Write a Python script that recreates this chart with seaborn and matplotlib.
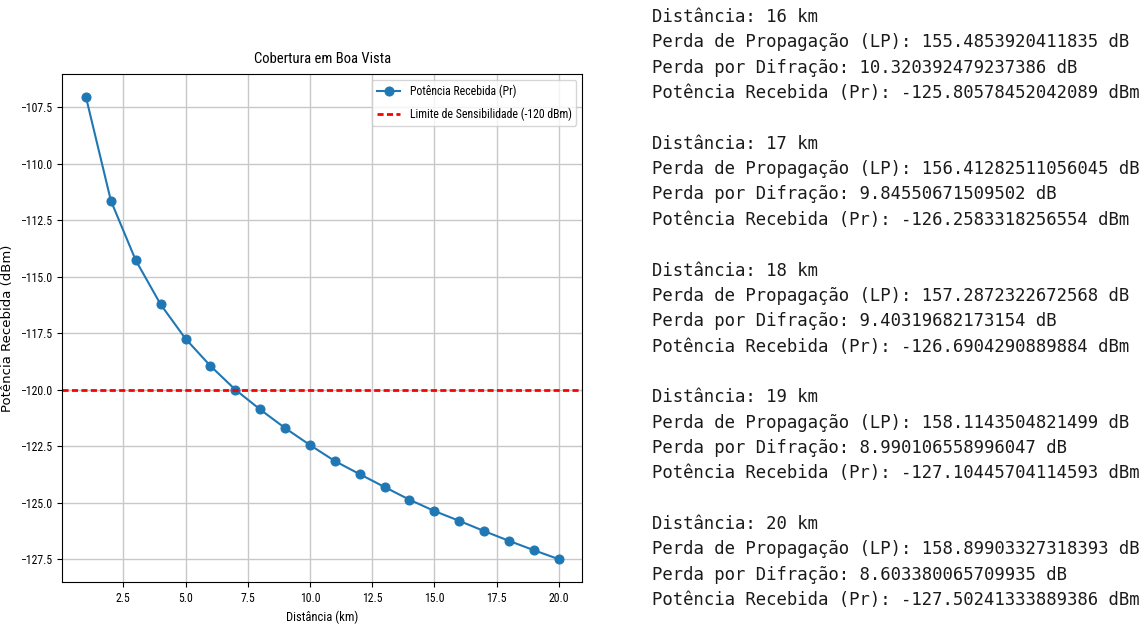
import pandas as pd
import numpy as np
import matplotlib
matplotlib.use("Agg")
import matplotlib.pyplot as plt
import seaborn as sns

# dados
distancias = [1, 2, 3, 4, 5, 6, 7, 8, 9, 10, 11, 12, 13, 14, 15, 16, 17, 18, 19, 20]
potencia_pr = [-107.06, -111.64, -114.28, -116.23, -117.75, -118.95, -120.0, -120.88,
               -121.70, -122.45, -123.16, -123.74, -124.31, -124.87, -125.37,
               -125.80578452042089, -126.2583318256554, -126.6904290889884,
               -127.10445704114593, -127.50241333889386]
limite_sensibilidade = -120

# saída de texto (últimas distâncias)
texto_dist = [16, 17, 18, 19, 20]
texto_lp = ["155.4853920411835", "156.41282511056045", "157.2872322672568",
            "158.1143504821499", "158.89903327318393"]
texto_difr = ["10.320392479237386", "9.84550671509502", "9.40319682173154",
              "8.990106558996047", "8.603380065709935"]
texto_pr = ["-125.80578452042089", "-126.2583318256554", "-126.6904290889884",
            "-127.10445704114593", "-127.50241333889386"]

df = pd.DataFrame({"Distância": distancias, "Pr": potencia_pr})

narrow = ["Roboto Condensed", "Liberation Sans Narrow", "Liberation Sans", "DejaVu Sans"]

fig = plt.figure(figsize=(11.48, 6.27), dpi=100)
ax = fig.add_axes([0.0543, 0.0713, 0.4530, 0.8107])

sns.lineplot(data=df, x="Distância", y="Pr", marker="o", color="#1f77b4",
             markersize=6.5, markeredgecolor="#1f77b4", linewidth=1.5,
             label="Potência Recebida (Pr)", ax=ax)
ax.axhline(limite_sensibilidade, color="red", linestyle=(0, (2.2, 1.2)), linewidth=2,
           label="Limite de Sensibilidade (-120 dBm)")

ax.grid(True, color="#c8c8c8", linewidth=1.0)
ax.set_axisbelow(True)
ax.set_title("Cobertura em Boa Vista", fontsize=10.5, family=narrow, pad=8)
ax.set_xlabel("Distância (km)", fontsize=9, family=narrow, labelpad=4)
ax.set_ylabel("Potência Recebida (dBm)", fontsize=9.5, family="DejaVu Sans")
ax.yaxis.set_label_coords(-0.093, 0.5)
for lab in ax.get_xticklabels() + ax.get_yticklabels():
    lab.set_family(narrow)
    lab.set_fontsize(8.5)
ax.legend(loc="upper right", prop={"family": narrow, "size": 8.5}, labelspacing=0.8)

# bloco de texto à direita
linhas = []
for i in range(len(texto_dist)):
    linhas.append(f"Distância: {texto_dist[i]} km")
    linhas.append(f"Perda de Propagação (LP): {texto_lp[i]} dB")
    linhas.append(f"Perda por Difração: {texto_difr[i]} dB")
    linhas.append(f"Potência Recebida (Pr): {texto_pr[i]} dBm")
    if i < len(texto_dist) - 1:
        linhas.append("")

for k, linha in enumerate(linhas):
    fig.text(652 / 1148, 1 - (17 + k * 25.35) / 627, linha, ha="left", va="center",
             family=["DejaVu Sans Mono", "Liberation Mono"], fontsize=12.4, color="#1a1a1a")

fig.savefig("out.png", dpi=100)
